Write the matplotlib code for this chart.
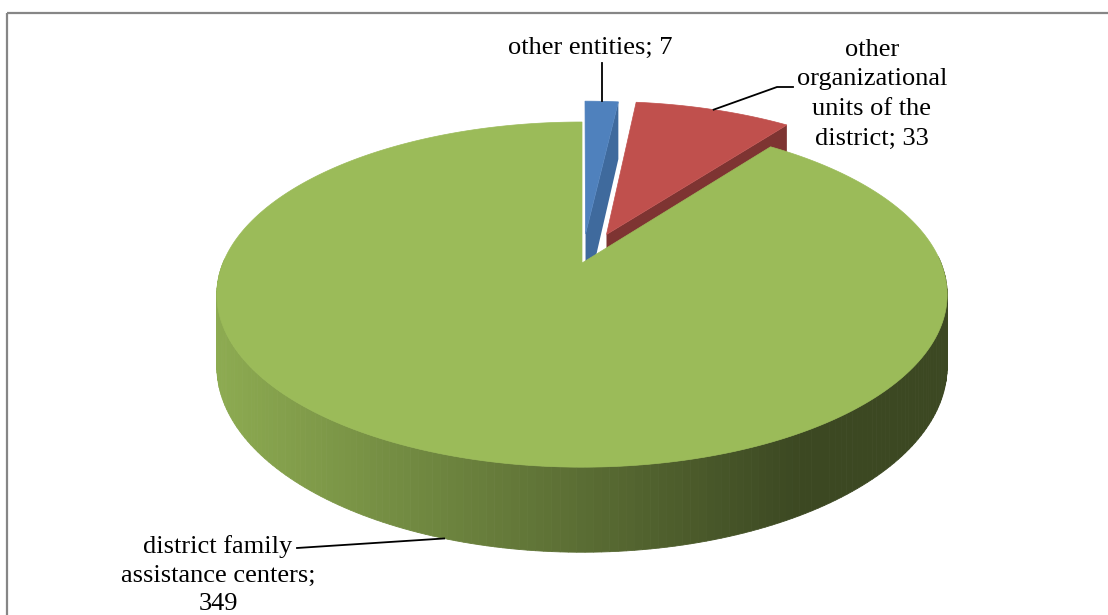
import numpy as np
import matplotlib; matplotlib.use('Agg')
import matplotlib.pyplot as plt
from matplotlib.patches import Polygon, Rectangle
from matplotlib.colors import to_rgb

# data
labels = ['other entities; 7',
          'other\norganizational\nunits of the\ndistrict; 33',
          'district family\nassistance centers;\n349']
values = [7, 33, 349]
top_colors = ['#4F81BD', '#C0504D', '#9BBB59']
face_colors = ['#3F6A9D', '#7E3432', '#6E8A3E']
explode = [0.18, 0.19, 0.0]

# 3d pie geometry (pixels)
CX, CY = 582, 263      # projected centre
A, K, H, D = 359, 166.8, 69.5, 0.183

def proj(X, Y, depth=0.0):
    w = 1 + D * Y
    return CX + A * X / w, CY + (-K * Y + H * depth) / w

side_light = np.array(to_rgb('#8DAB51'))
side_dark = np.array(to_rgb('#3C4822'))

def side_color(x):
    t = np.clip((x - 216) / (800 - 216), 0, 1)
    return tuple(side_light * (1 - t) + side_dark * t)

fig = plt.figure(figsize=(11.08, 6.15), dpi=100)
ax = fig.add_axes([0, 0, 1, 1])
ax.set_xlim(0, 1108)
ax.set_ylim(615, 0)
ax.axis('off')

ax.add_patch(Rectangle((7, 13), 1200, 700, fill=False, edgecolor='#868686', lw=1.6))

total = sum(values)
start = 90.0
spans = []
for v in values:
    span = v / total * 360
    spans.append((start, start - span))
    start -= span

font = dict(family=['Liberation Serif', 'DejaVu Serif'], fontsize=19, color='black')

for i, (t1, t2) in enumerate(spans):
    mid = np.radians((t1 + t2) / 2)
    ox, oy = explode[i] * np.cos(mid), explode[i] * np.sin(mid)
    th = np.radians(np.linspace(t1, t2, 300))
    rx, ry = np.cos(th) + ox, np.sin(th) + oy

    # outer side (front part only)
    for j in range(len(th) - 1):
        if np.sin(th[j]) > 0.02 and np.sin(th[j + 1]) > 0.02:
            continue
        p = [proj(rx[j], ry[j]), proj(rx[j + 1], ry[j + 1]),
             proj(rx[j + 1], ry[j + 1], 1), proj(rx[j], ry[j], 1)]
        c = side_color((p[0][0] + p[1][0]) / 2)
        ax.add_patch(Polygon(p, closed=True, facecolor=c, edgecolor=c, lw=0.6))

    # radial face at the end of the slice (faces the viewer)
    if np.sin(np.radians(t2 - 90)) < -0.01:
        ex, ey = np.cos(np.radians(t2)) + ox, np.sin(np.radians(t2)) + oy
        p = [proj(ox, oy), proj(ex, ey), proj(ex, ey, 1), proj(ox, oy, 1)]
        ax.add_patch(Polygon(p, closed=True, facecolor=face_colors[i], edgecolor='none'))

    # top face
    pts = [proj(ox, oy)] + [proj(x, y) for x, y in zip(rx, ry)]
    ax.add_patch(Polygon(pts, closed=True, facecolor=top_colors[i], edgecolor=top_colors[i], lw=0.5))

# labels and leader lines
def rim(i, depth=0.0):
    t1, t2 = spans[i]
    mid = np.radians((t1 + t2) / 2)
    e = 1 + explode[i]
    return proj(e * np.cos(mid), e * np.sin(mid), depth)

bx, by = rim(0)
ax.text(590, 48, labels[0], ha='center', va='center', **font)
ax.plot([bx, bx], [63, by], color='black', lw=1.3)

rx_, ry_ = rim(1)
ax.text(872, 94, labels[1], ha='center', va='center', linespacing=1.45, **font)
ax.plot([rx_, 777, 793], [ry_, 87, 87], color='black', lw=1.3)

gx, gy = rim(2, 1)
ax.text(218, 575, labels[2], ha='center', va='center', linespacing=1.4, **font)
ax.plot([297, gx], [548, gy], color='black', lw=1.3)

plt.savefig('out.png', dpi=100)
plt.close()
